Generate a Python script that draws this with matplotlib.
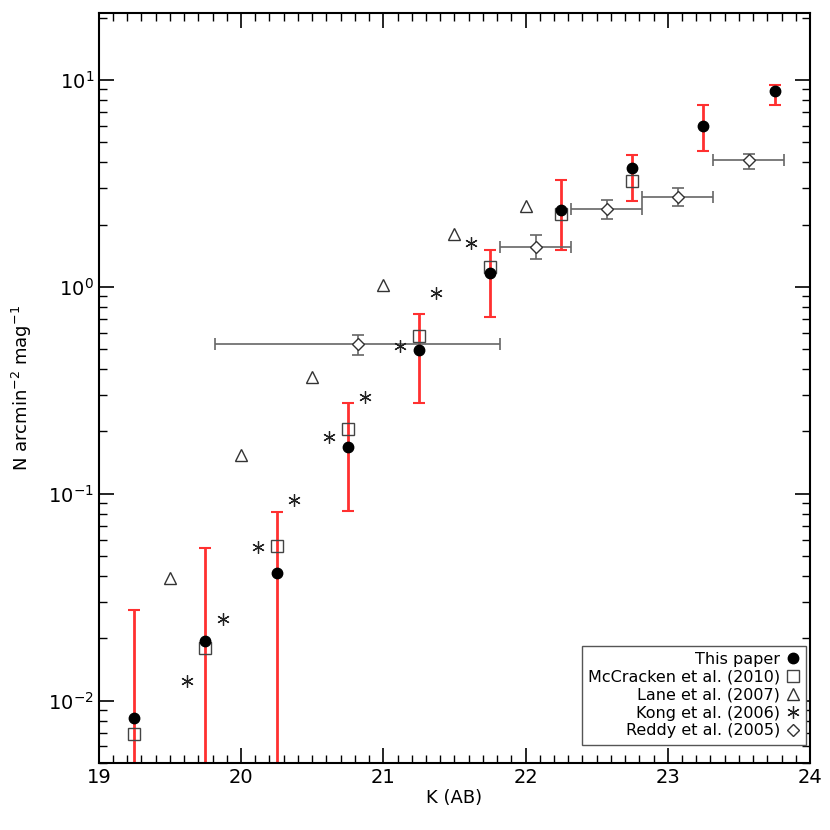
import numpy as np
import matplotlib
matplotlib.use("Agg")
import matplotlib.pyplot as plt
from matplotlib.ticker import LogLocator, MultipleLocator

# this paper
k_this = [19.25, 19.75, 20.25, 20.75, 21.25, 21.75, 22.25, 22.75, 23.25, 23.75]
n_this = [0.00826, 0.0193, 0.0414, 0.169, 0.494, 1.17, 2.34, 3.74, 5.98, 8.84]
n_this_hi = [0.0274, 0.0547, 0.0818, 0.273, 0.74, 1.51, 3.27, 4.33, 7.56, 9.46]
n_this_lo = [0.001, 0.001, 0.001, 0.0826, 0.273, 0.715, 1.50, 2.59, 4.52, 7.56]

# McCracken et al. (2010)
k_mcc = [19.25, 19.75, 20.25, 20.75, 21.25, 21.75, 22.25, 22.75]
n_mcc = [0.0069, 0.0179, 0.056, 0.205, 0.578, 1.24, 2.26, 3.24]

# Lane et al. (2007)
k_lane = [19.5, 20.0, 20.5, 21.0, 21.5, 22.0]
n_lane = [0.039, 0.153, 0.366, 1.02, 1.79, 2.47]

# Kong et al. (2006)
k_kong = [19.62, 19.87, 20.12, 20.37, 20.62, 20.87, 21.12, 21.37, 21.62]
n_kong = [0.0124, 0.0247, 0.0555, 0.0935, 0.187, 0.292, 0.517, 0.93, 1.63]

# Reddy et al. (2005)
k_red = [20.82, 22.07, 22.57, 23.07, 23.57]
k_red_lo = [19.82, 21.82, 22.32, 22.82, 23.32]
k_red_hi = [21.82, 22.32, 22.82, 23.32, 23.82]
n_red = [0.527, 1.56, 2.38, 2.72, 4.08]
n_red_hi = [0.587, 1.78, 2.64, 2.99, 4.39]
n_red_lo = [0.468, 1.36, 2.13, 2.45, 3.73]

plt.rcParams['font.family'] = ['DejaVu Sans']
plt.rcParams['mathtext.fontset'] = 'dejavusans'

fig = plt.figure(figsize=(8.3, 8.3), dpi=100)
ax = fig.add_axes([0.119, 0.081, 0.857, 0.903])
ax.set_yscale('log')

kt = np.array(k_this); nt = np.array(n_this)
ax.errorbar(kt, nt, yerr=[nt - np.array(n_this_lo), np.array(n_this_hi) - nt],
            fmt='none', ecolor='#ff3030', elinewidth=2, capsize=4, capthick=1.5, zorder=2)

kr = np.array(k_red); nr = np.array(n_red)
ax.errorbar(kr, nr, xerr=[kr - np.array(k_red_lo), np.array(k_red_hi) - kr],
            yerr=[nr - np.array(n_red_lo), np.array(n_red_hi) - nr],
            fmt='none', ecolor='#666666', elinewidth=1.2, capsize=4, capthick=1.2, zorder=2)

ax.plot(k_mcc, n_mcc, ls='none', marker='s', ms=8, mfc='none', mec='#444444', mew=1.0,
        label='McCracken et al. (2010)', zorder=3)
ax.plot(k_lane, n_lane, ls='none', marker='^', ms=8, mfc='none', mec='#333333', mew=1.0,
        label='Lane et al. (2007)', zorder=3)
ax.plot(k_kong, n_kong, ls='none', marker=(6, 2, 0), ms=9, mfc='none', mec='#222222', mew=0.9,
        label='Kong et al. (2006)', zorder=3)
ax.plot(k_red, n_red, ls='none', marker='D', ms=6, mfc='white', mec='#333333', mew=1.0,
        label='Reddy et al. (2005)', zorder=3)
ax.plot(k_this, n_this, ls='none', marker='o', ms=7.5, mfc='black', mec='black',
        label='This paper', zorder=4)

ax.set_xlim(19, 24)
ax.set_ylim(0.005, 21)
ax.xaxis.set_major_locator(MultipleLocator(1))
ax.xaxis.set_minor_locator(MultipleLocator(0.1))
ax.yaxis.set_major_locator(LogLocator(base=10, numticks=10))
ax.yaxis.set_minor_locator(LogLocator(base=10, subs=np.arange(2, 10), numticks=10))
ax.tick_params(which='both', direction='in', top=True, right=True, labelsize=14)
ax.tick_params(which='major', length=11, width=1.2)
ax.tick_params(which='minor', length=6, width=1.0)
for s in ax.spines.values():
    s.set_linewidth(1.5)

ax.set_xlabel('K (AB)', fontsize=13, labelpad=2)
ax.set_ylabel(r'N arcmin$^{-2}$ mag$^{-1}$', fontsize=13, labelpad=10)

h, l = ax.get_legend_handles_labels()
order = [4, 0, 1, 2, 3]
leg = ax.legend([h[i] for i in order], [l[i] for i in order], loc='lower right',
                bbox_to_anchor=(0.994, 0.024), borderaxespad=0,
                markerfirst=False, fontsize=11.5, fancybox=False, edgecolor='#555555',
                handlelength=0.8, handletextpad=0.4, labelspacing=0.18,
                framealpha=1)
leg.get_frame().set_linewidth(1.0)

fig.savefig('out.png', dpi=100)
